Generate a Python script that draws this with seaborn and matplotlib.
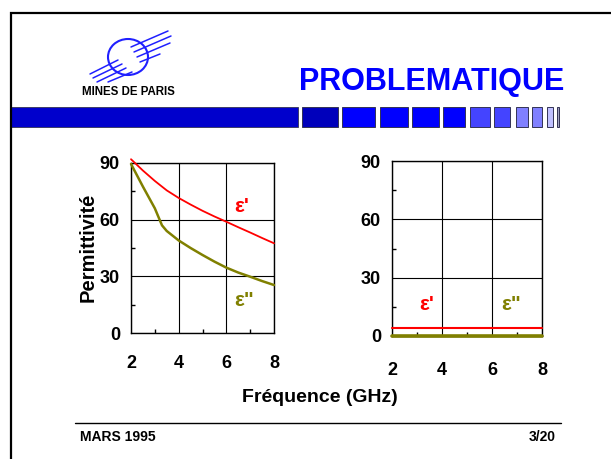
import numpy as np
import pandas as pd
import matplotlib
matplotlib.use("Agg")
import matplotlib.pyplot as plt
from matplotlib.patches import Rectangle, Ellipse
from matplotlib.ticker import MultipleLocator
import seaborn as sns

# ---- data -------------------------------------------------------------
freq_re = [2, 2.5, 3, 3.5, 4, 4.5, 5, 5.5, 6, 6.5, 7, 7.5, 8]
eps_re = [92, 86, 80.5, 75.5, 71.5, 68, 64.7, 61.7, 58.9, 56.0, 53.2, 50.3, 47.5]

freq_im = [2, 2.5, 3, 3.3, 3.5, 4, 4.5, 5, 5.5, 6, 6.5, 7, 7.5, 8]
eps_im = [89.5, 77.5, 66, 57, 54, 49, 45, 41.3, 37.8, 34.6, 32, 29.8, 27.5, 25.4]

freq_flat = [2, 8]
eps_re_flat = [4, 4]
eps_im_flat = [0, 0]

x_ticks = [2, 4, 6, 8]
y_ticks = [0, 30, 60, 90]

RED = "#ff0000"
OLIVE = "#808000"

sns.set_style("white")
plt.rcParams["font.family"] = ["Liberation Sans", "DejaVu Sans"]
plt.rcParams["font.weight"] = "bold"
plt.rcParams["text.color"] = "black"
plt.rcParams["xtick.color"] = "black"
plt.rcParams["ytick.color"] = "black"

W, H = 611, 459
fig = plt.figure(figsize=(W / 100, H / 100), dpi=100)
fig.patch.set_facecolor("white")

# ---- slide decoration (pixel coordinates) ----------------------------
bg = fig.add_axes([0, 0, 1, 1], zorder=0)
bg.set_xlim(0, W)
bg.set_ylim(H, 0)
bg.axis("off")

# slide frame
bg.plot([11, 11, W + 5], [H + 5, 13, 13], color="black", lw=1.6,
        solid_joinstyle="miter", clip_on=False)

# logo
LOGO = "#2020ff"
bg.add_patch(Ellipse((128, 57), 40, 36, fill=False, ec=LOGO, lw=1.5))
strokes = [((131, 47), (168, 31)), ((134, 52), (171, 36)), ((137, 57), (170, 43)),
           ((140, 62), (160, 54)),
           ((90, 74), (118, 60)), ((93, 78), (122, 64)), ((97, 82), (126, 68)),
           ((108, 82), (132, 72))]
for (x0, y0), (x1, y1) in strokes:
    bg.plot([x0, x1], [y0, y1], color=LOGO, lw=1.1, solid_capstyle="round")
bg.text(128, 92, "MINES DE PARIS", ha="center", va="center",
        fontsize=8.3, fontweight="bold", color="black")

# title
bg.text(432, 82, "PROBLEMATIQUE", ha="center", va="center",
        fontsize=22, fontweight="bold", color="#0000ff")

# header band and fading squares
band_y, band_h = 107, 20
bg.add_patch(Rectangle((11, band_y), 287, band_h, fc="#0000cc", ec="#333355", lw=0.6))
squares = [(302, 36, "#0000bb"), (342, 33, "#0000ff"), (380, 28, "#0000ff"),
           (412, 27, "#0000ff"), (443, 22, "#0000ff"), (470, 20, "#4444ff"),
           (494, 16, "#4444ff"), (516, 12, "#8080ff"), (532, 10, "#8080ff"),
           (547, 6, "#c0c0ff"), (557, 2, "#a0a0c0")]
for x0, w, c in squares:
    bg.add_patch(Rectangle((x0, band_y), w, band_h, fc=c, ec="#333355", lw=0.7))

# footer
bg.plot([75, 561], [423, 423], color="black", lw=1.0)
bg.text(80, 437, "MARS 1995", ha="left", va="center", fontsize=10,
        fontweight="bold", color="black")
bg.text(556, 437, "3/20", ha="right", va="center", fontsize=10,
        fontweight="bold", color="black")

# shared axis titles
bg.text(320, 398, "Fréquence (GHz)", ha="center", va="center",
        fontsize=14, fontweight="bold", color="black")
bg.text(88, 247, "Permittivité", ha="center", va="center", rotation=90,
        fontsize=14.5, fontweight="bold", color="black")


def px_axes(x0, y0, x1, y1):
    return fig.add_axes([x0 / W, 1 - y1 / H, (x1 - x0) / W, (y1 - y0) / H], zorder=2)


def style(ax, xpad):
    ax.set_xlim(2, 8)
    ax.set_ylim(0, 90)
    ax.set_xticks(x_ticks)
    ax.set_yticks(y_ticks)
    ax.set_xticklabels([str(v) for v in x_ticks], fontweight="bold",
                       fontsize=13, color="black")
    ax.set_yticklabels([str(v) for v in y_ticks], fontweight="bold",
                       fontsize=13, color="black")
    ax.xaxis.set_minor_locator(MultipleLocator(1))
    ax.yaxis.set_minor_locator(MultipleLocator(15))
    ax.grid(True, which="major", color="black", lw=0.8)
    ax.set_axisbelow(True)
    for s in ax.spines.values():
        s.set_visible(True)
        s.set_color("black")
        s.set_linewidth(1.0)
    ax.tick_params(which="major", direction="out", length=4.5, width=1.0,
                   color="black")
    ax.tick_params(axis="x", which="major", pad=xpad)
    ax.tick_params(axis="y", which="major", pad=3.5)
    ax.tick_params(which="minor", direction="in", length=3, width=1.0, color="black")
    ax.tick_params(top=False, right=False, which="both")
    ax.tick_params(axis="both", which="minor", bottom=True, left=True)
    ax.set_xlabel("")
    ax.set_ylabel("")


# ---- left chart -------------------------------------------------------
ax1 = px_axes(131, 163, 274, 333)
df_re = pd.DataFrame({"f": freq_re, "e": eps_re})
df_im = pd.DataFrame({"f": freq_im, "e": eps_im})
sns.lineplot(data=df_re, x="f", y="e", ax=ax1, color=RED, lw=1.3,
             sort=False, estimator=None, clip_on=False, zorder=4)
sns.lineplot(data=df_im, x="f", y="e", ax=ax1, color=OLIVE, lw=1.8,
             sort=False, estimator=None, clip_on=False, zorder=3)
style(ax1, xpad=11)
ax1.text(6.65, 67, "ε'", color=RED, fontsize=15, fontweight="bold",
         ha="center", va="center")
ax1.text(6.75, 17, 'ε"', color=OLIVE, fontsize=15, fontweight="bold",
         ha="center", va="center")

# ---- right chart ------------------------------------------------------
ax2 = px_axes(392, 161, 542, 336)
df_re2 = pd.DataFrame({"f": freq_flat, "e": eps_re_flat})
df_im2 = pd.DataFrame({"f": freq_flat, "e": eps_im_flat})
sns.lineplot(data=df_re2, x="f", y="e", ax=ax2, color=RED, lw=1.5,
             sort=False, estimator=None, clip_on=False, zorder=4)
sns.lineplot(data=df_im2, x="f", y="e", ax=ax2, color=OLIVE, lw=2.6,
             sort=False, estimator=None, clip_on=False, zorder=5)
style(ax2, xpad=14)
ax2.text(3.4, 16, "ε'", color=RED, fontsize=15, fontweight="bold",
         ha="center", va="center")
ax2.text(6.75, 16, 'ε"', color=OLIVE, fontsize=15, fontweight="bold",
         ha="center", va="center")

fig.savefig("out.png", dpi=100, facecolor="white")
